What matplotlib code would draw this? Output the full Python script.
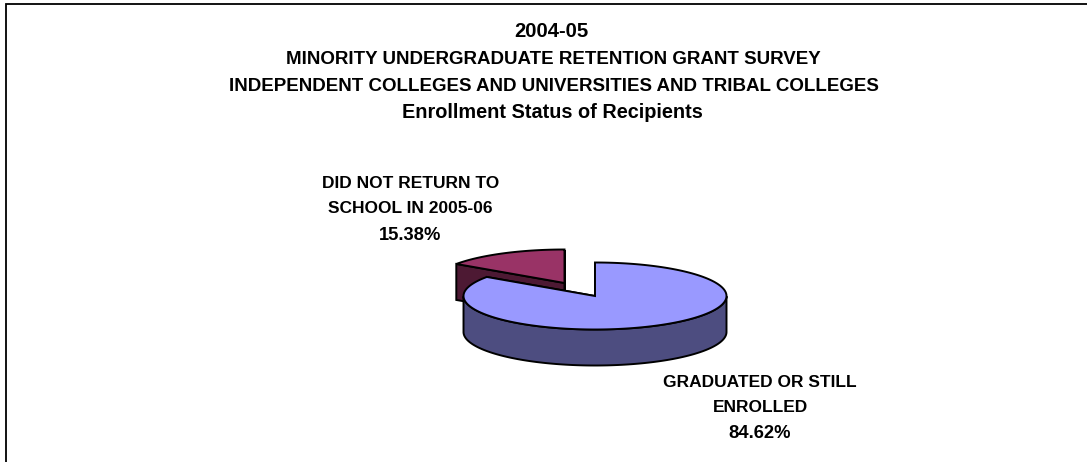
import numpy as np
import matplotlib
matplotlib.use("Agg")
import matplotlib.pyplot as plt
from matplotlib.patches import Polygon

plt.rcParams['font.family'] = ['Liberation Sans', 'DejaVu Sans']

# data
title_lines = [
    "2004-05",
    "MINORITY UNDERGRADUATE RETENTION GRANT SURVEY",
    "INDEPENDENT COLLEGES AND UNIVERSITIES AND TRIBAL COLLEGES",
    "Enrollment Status of Recipients",
]
labels = [["GRADUATED OR STILL", "ENROLLED"], ["DID NOT RETURN TO", "SCHOOL IN 2005-06"]]
values = [84.62, 15.38]

# fake 3d pie layout, in pixels
cx, cy = 595, 296
rx, ry = 131.5, 33.5
depth = 36
explode = (-30.5, -13)
top_colors = ["#9999FF", "#993366"]
side_colors = ["#4D4D80", "#4D1933"]

# text layout: size per line because the original glyph spacing is tighter
title_sizes = [14.6, 13.5, 13.5, 14.3]
title_x = [551.5, 553, 554, 552]
title_y = [37, 64, 91, 118]
label_x = [760, 410.5]
label_y = [[387, 412, 438], [188, 213, 240]]


def rim(a0, a1, c):
    # clockwise from 12 o'clock, angles in degrees
    t = np.radians(np.linspace(a0, a1, 200))
    return np.column_stack([c[0] + rx * np.sin(t), c[1] - ry * np.cos(t)])


def draw_slice(ax, a0, a1, c, top, side, z):
    arc = rim(a0, a1, c)
    tip = np.array([c])
    down = np.array([0, depth])
    # cut walls first, then outer wall, then top face
    for end in (arc[0], arc[-1]):
        wall = np.array([tip[0], end, end + down, tip[0] + down])
        ax.add_patch(Polygon(wall, fc=side, ec="black", lw=1.4, zorder=z))
    front = arc[np.cos(np.radians(np.linspace(a0, a1, 200))) < 0]
    if len(front):
        wall = np.vstack([front, (front + down)[::-1]])
        ax.add_patch(Polygon(wall, fc=side, ec="black", lw=1.4, zorder=z + 0.1))
    ax.add_patch(Polygon(np.vstack([tip, arc]), fc=top, ec="black", lw=1.4, zorder=z + 0.2))


fig = plt.figure(figsize=(10.87, 4.62), dpi=100)
ax = fig.add_axes([0, 0, 1, 1])
ax.set_xlim(0, 1087)
ax.set_ylim(462, 0)
ax.axis("off")

# chart frame, only top and left are in the crop
ax.plot([5.5, 5.5, 1087], [462, 4, 4], color="black", lw=1.3, solid_joinstyle="miter")

for line, x, y, size in zip(title_lines, title_x, title_y, title_sizes):
    ax.text(x, y, line, ha="center", va="baseline", fontsize=size, fontweight="bold")

angles = np.cumsum([0] + values) * 3.6
# second slice sits behind the first
draw_slice(ax, angles[1], angles[2], (cx + explode[0], cy + explode[1]), top_colors[1], side_colors[1], 2)
draw_slice(ax, angles[0], angles[1], (cx, cy), top_colors[0], side_colors[0], 3)

for lab, val, x, ys in zip(labels, values, label_x, label_y):
    ax.text(x, ys[0], lab[0], ha="center", va="baseline", fontsize=12.5, fontweight="bold")
    ax.text(x, ys[1], lab[1], ha="center", va="baseline", fontsize=12.5, fontweight="bold")
    ax.text(x, ys[2], f"{val:.2f}%", ha="center", va="baseline", fontsize=13.2, fontweight="bold")

fig.savefig("out.png", dpi=100)
